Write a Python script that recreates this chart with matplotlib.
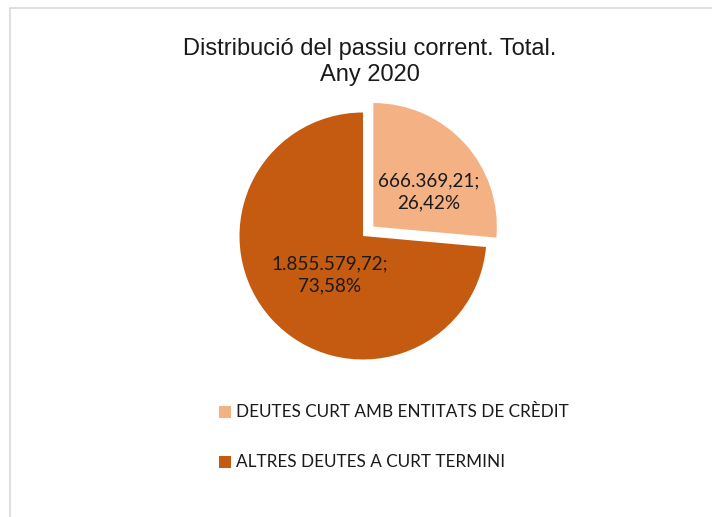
import matplotlib.pyplot as plt
from matplotlib.patches import Rectangle

# data
categories = ['DEUTES CURT AMB ENTITATS DE CRÈDIT', 'ALTRES DEUTES A CURT TERMINI']
values = [666369.21, 1855579.72]
value_labels = ['666.369,21;\n26,42%', '1.855.579,72;\n73,58%']
colors = ['#F4B183', '#C55A11']

W, H = 712, 517
fig = plt.figure(figsize=(W / 100, H / 100), dpi=100)
ax = fig.add_axes([0, 0, 1, 1])

# chart border (light gray, cut off at right/bottom like the reference)
ax.add_patch(Rectangle((10, -20), W + 20, H - 8 + 20, fill=False,
                       edgecolor='#d9d9d9', linewidth=1.2))

# pie: start at top and go clockwise like Excel; explode is in data units here
cx, cy, r = 363, H - 236, 123.5
wedges, _ = ax.pie(values, colors=colors, explode=[14, 0], startangle=90,
                   counterclock=False, center=(cx, cy), radius=r,
                   wedgeprops=dict(linewidth=0), frame=True)
ax.set_xlim(0, W)
ax.set_ylim(0, H)
ax.set_aspect('auto')
ax.axis('off')

lbl_font = 'Lato'
ax.text(429, H - 192, value_labels[0], ha='center', va='center',
        fontsize=13.6, family=lbl_font, color='#1a1a1a', linespacing=1.35)
ax.text(330, H - 274.5, value_labels[1], ha='center', va='center',
        fontsize=13.6, family=lbl_font, color='#1a1a1a', linespacing=1.35)

# title
ax.text(370, H - 62, 'Distribució del passiu corrent. Total.\nAny 2020',
        ha='center', va='center', fontsize=17, family='Liberation Sans',
        color='#1a1a1a', linespacing=1.2)

# legend
for i, (cat, col) in enumerate(zip(categories, colors)):
    y = H - (412 + i * 50)
    ax.add_patch(Rectangle((219, y - 6), 12, 12, facecolor=col, edgecolor='none'))
    ax.text(236, y, cat, ha='left', va='center', fontsize=12.3,
            family=lbl_font, color='#1a1a1a')

fig.savefig('out.png', dpi=100)
